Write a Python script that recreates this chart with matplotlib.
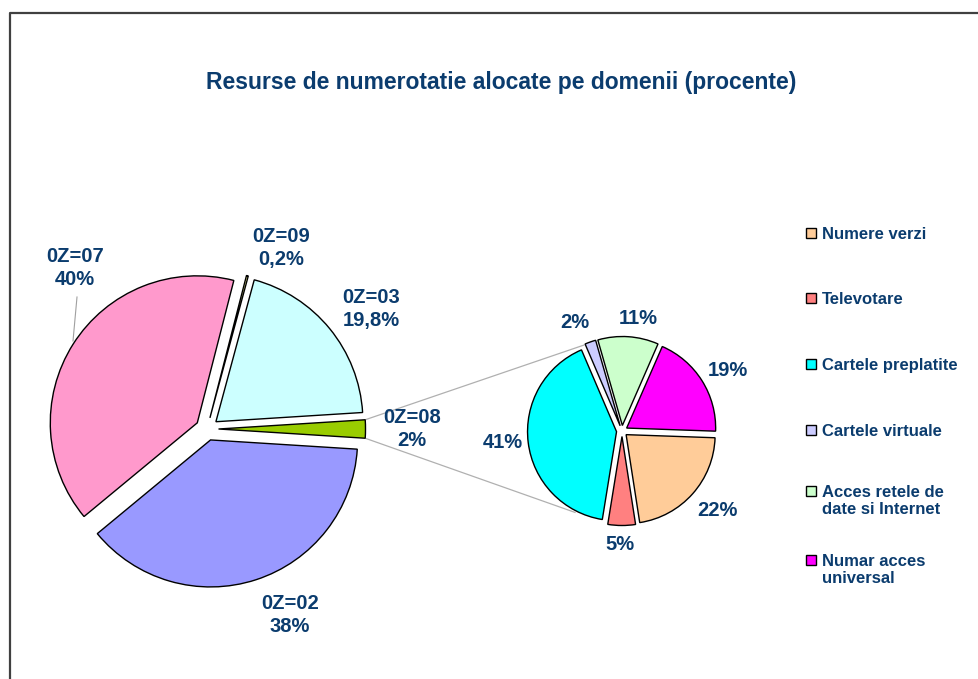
import matplotlib.pyplot as plt
import numpy as np

# main pie: numbering domains
main_labels = ['0Z=07', '0Z=09', '0Z=03', '0Z=08', '0Z=02']
main_texts = ['40%', '0,2%', '19,8%', '2%', '38%']
main_values = [40, 0.2, 19.8, 2, 38]
main_colors = ['#FF99CC', '#FFFF99', '#CCFFFF', '#99CC00', '#9999FF']

# secondary pie: breakdown of 0Z=08
sub_labels = ['Numere verzi', 'Televotare', 'Cartele preplatite', 'Cartele virtuale',
              'Acces retele de\ndate si Internet', 'Numar acces\nuniversal']
sub_values = [22, 5, 41, 2, 11, 19]
sub_colors = ['#FFCC99', '#FF8080', '#00FFFF', '#CCCCFF', '#CCFFCC', '#FF00FF']

title = 'Resurse de numerotatie alocate pe domenii (procente)'
txt_color = '#0B3C6E'
plt.rcParams['font.family'] = ['Liberation Sans', 'DejaVu Sans']

W, H = 979, 679
fig = plt.figure(figsize=(W / 100, H / 100), dpi=100)
ax = fig.add_axes([0, 0, 1, 1])

def Y(y):
    return H - y

# left pie, 0Z=08 slice centred on the right side
c1 = (207, Y(429))
r1 = 147
start1 = sum(main_values[:3]) * 3.6 + main_values[3] * 1.8
w1, _ = ax.pie(main_values, colors=main_colors, startangle=start1, counterclock=False,
               explode=[11.5] * 5, radius=r1, center=c1, frame=True,
               wedgeprops=dict(edgecolor='black', linewidth=1))

# right pie
c2 = (622, Y(431))
r2 = 89
w2, _ = ax.pie(sub_values, colors=sub_colors, startangle=-2, counterclock=False,
               explode=[5.5] * 6, radius=r2, center=c2, frame=True,
               wedgeprops=dict(edgecolor='black', linewidth=1))
ax.set_xlim(0, W)
ax.set_ylim(0, H)
ax.set_aspect('equal')
ax.axis('off')

# frame
ax.plot([10, 10, W], [0, Y(13), Y(13)], color='#404040', lw=1.6, solid_capstyle='butt')

ax.text(501, Y(83), title, ha='center', va='center', fontsize=16.5,
        fontweight='bold', color=txt_color)

# connector lines from 0Z=08 wedge to the second pie
wd = w1[3]
cx, cy = wd.center
pts = [(cx + wd.r * np.cos(np.radians(a)), cy + wd.r * np.sin(np.radians(a)))
       for a in (wd.theta1, wd.theta2)]
pts.sort(key=lambda p: -p[1])
for p, a in zip(pts, (114, 240)):
    q = (c2[0] + (r2 + 5) * np.cos(np.radians(a)), c2[1] + (r2 + 5) * np.sin(np.radians(a)))
    ax.plot([p[0], q[0]], [p[1], q[1]], color='#B0B0B0', lw=0.9, zorder=0)

# data labels
main_pos = [(75, 268), (281, 248), (371, 309), (412, 429), (290, 615)]
for lab, t, (x, y) in zip(main_labels, main_texts, main_pos):
    ax.text(x, Y(y), lab + '\n' + t, ha='center', va='center', fontsize=14.5,
            fontweight='bold', color=txt_color, linespacing=1.3)
ax.plot([77, 73], [Y(297), Y(341)], color='#A0A0A0', lw=0.8)

sub_pos = [(717, 511), (620, 545), (503, 443), (575, 323), (638, 318), (728, 370)]
for v, (x, y) in zip(sub_values, sub_pos):
    ax.text(x, Y(y), f'{v}%', ha='center', va='center', fontsize=14.5,
            fontweight='bold', color=txt_color)

# legend
leg_y = [233, 298, 364, 430, 491, 560]
for lab, col, y in zip(sub_labels, sub_colors, leg_y):
    ax.add_patch(plt.Rectangle((806, Y(y) - 5), 10, 10, facecolor=col,
                               edgecolor='black', lw=1))
    ax.text(822, Y(y) + 6, lab, ha='left', va='top', fontsize=12,
            fontweight='bold', color=txt_color, linespacing=1.15)

fig.savefig('out.png', dpi=100, facecolor='white')
